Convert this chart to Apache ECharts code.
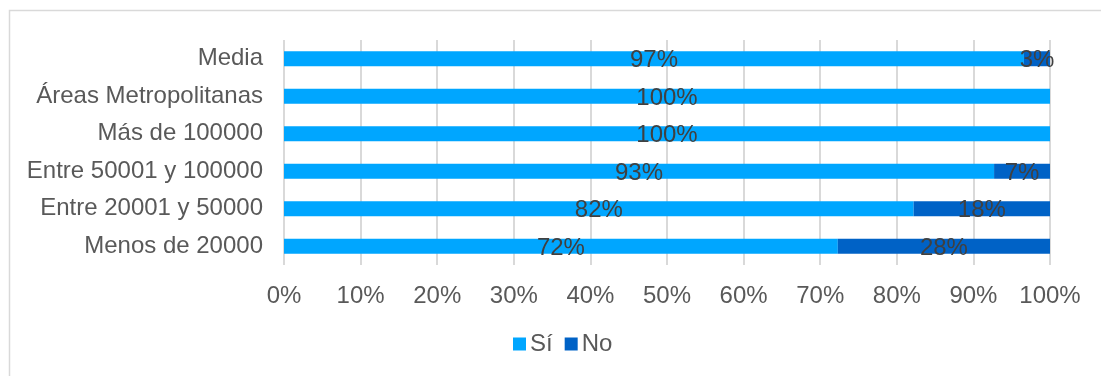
<!DOCTYPE html>
<html>
<head>
<meta charset="utf-8">
<script src="https://cdn.jsdelivr.net/npm/echarts@6/dist/echarts.min.js"></script>
<style>
html,body{margin:0;padding:0;background:#fff;}
#c{width:1101px;height:376px;}
</style>
</head>
<body>
<div id="c"></div>
<script>
const categories = ["Media", "Áreas Metropolitanas", "Más de 100000", "Entre 50001 y 100000", "Entre 20001 y 50000", "Menos de 20000"];
const siValues = [96.6, 100, 100, 92.7, 82.2, 72.3];
const noValues = [3.4, 0, 0, 7.3, 17.8, 27.7];
const seriesNames = ["Sí", "No"];

const FONT = 'Liberation Sans';
const FS = 24;
const labelCfg = {
  show: true,
  position: 'inside',
  color: '#404040',
  fontFamily: FONT,
  fontSize: FS,
  offset: [0, 2],
  formatter: p => p.value > 0 ? Math.round(p.value) + '%' : ''
};

const chart = echarts.init(document.getElementById('c'), null, {renderer: 'canvas'});
chart.setOption({
  animation: false,
  backgroundColor: '#fff',
  graphic: [{
    type: 'rect',
    shape: {x: 9.5, y: 10.5, width: 1200, height: 500},
    style: {fill: 'none', stroke: '#d9d9d9', lineWidth: 1.5},
    silent: true,
    z: -10
  }],
  grid: {left: 284, right: 51, top: 40, bottom: 111},
  legend: {
    data: seriesNames,
    left: 508,
    top: 327,
    itemWidth: 13,
    itemHeight: 13,
    itemGap: 12,
    icon: 'rect',
    textStyle: {color: '#595959', fontFamily: FONT, fontSize: FS, padding: [0, 0, 0, -1]}
  },
  xAxis: {
    type: 'value',
    min: 0,
    max: 100,
    interval: 10,
    axisLine: {show: false},
    axisTick: {show: false},
    splitLine: {show: true, lineStyle: {color: '#d9d9d9', width: 2}},
    axisLabel: {formatter: '{value}%', color: '#595959', fontFamily: FONT, fontSize: FS, margin: 19}
  },
  yAxis: {
    type: 'category',
    data: categories,
    inverse: true,
    axisLine: {show: false},
    axisTick: {show: false},
    axisLabel: {color: '#595959', fontFamily: FONT, fontSize: FS, margin: 21}
  },
  series: [
    {name: seriesNames[0], type: 'bar', stack: 'a', data: siValues, barWidth: '40%',
     itemStyle: {color: '#00A6FF'}, label: labelCfg},
    {name: seriesNames[1], type: 'bar', stack: 'a', data: noValues, barWidth: '40%',
     itemStyle: {color: '#0062C6'}, label: labelCfg}
  ]
});
</script>
</body>
</html>
